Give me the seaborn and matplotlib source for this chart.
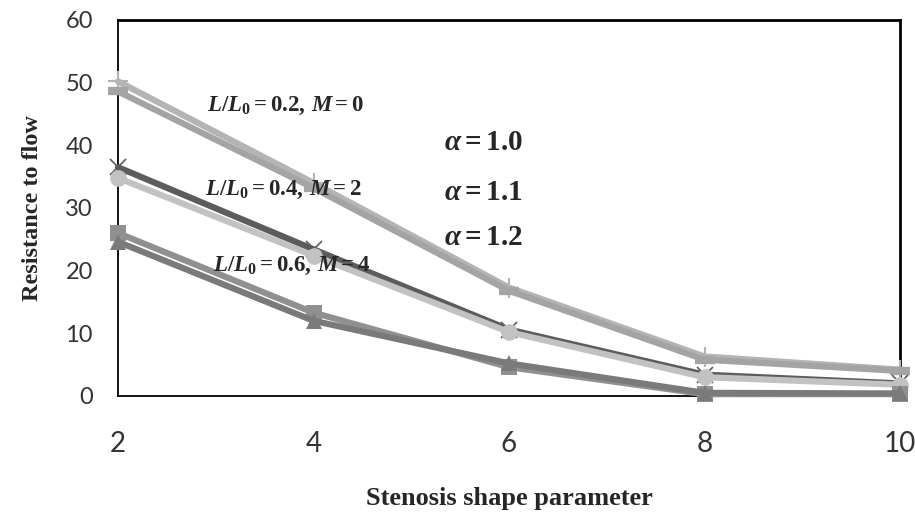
import pandas as pd
import matplotlib
matplotlib.use('Agg')
import matplotlib.pyplot as plt
import seaborn as sns

# Stenosis shape parameter (x) and resistance to flow for each curve
shape_param = [2, 4, 6, 8, 10]

r_02_a = [50.2, 34.0, 17.3, 6.3, 4.2]
r_02_b = [48.6, 33.2, 16.8, 5.8, 4.0]
r_04_a = [36.5, 23.4, 10.6, 3.4, 2.0]
r_04_b = [34.8, 22.4, 10.2, 3.0, 1.8]
r_06_a = [26.0, 13.3, 4.6, 0.3, 0.3]
r_06_b = [24.6, 12.0, 5.2, 0.5, 0.4]

series_names = ['0.2 a', '0.2 b', '0.4 a', '0.4 b', '0.6 a', '0.6 b']
series_values = [r_02_a, r_02_b, r_04_a, r_04_b, r_06_a, r_06_b]

geometry_labels = [r'$L/L_0 = 0.2,\,M = 0$',
                   r'$L/L_0 = 0.4,\,M = 2$',
                   r'$L/L_0 = 0.6,\,M = 4$']
alpha_labels = [r'$\alpha = 1.0$', r'$\alpha = 1.1$', r'$\alpha = 1.2$']

sns.set_theme(style='white')
plt.rcParams['mathtext.fontset'] = 'custom'
plt.rcParams['mathtext.rm'] = 'Liberation Serif:bold'
plt.rcParams['mathtext.it'] = 'Liberation Serif:italic:bold'
plt.rcParams['mathtext.bf'] = 'Liberation Serif:bold'

rows = []
for name, vals in zip(series_names, series_values):
    for x, y in zip(shape_param, vals):
        rows.append({'series': name, 'x': x, 'y': y})
df = pd.DataFrame(rows)

styles = {
    '0.2 a': dict(color='#b4b4b4', marker='+', ms=14, mew=1.5),
    '0.2 b': dict(color='#a4a4a4', marker='_', ms=14, mew=6),
    '0.4 a': dict(color='#5c5c5c', marker='x', ms=11, mew=1.2),
    '0.4 b': dict(color='#c2c2c2', marker='o', ms=12, mew=0),
    '0.6 a': dict(color='#909090', marker='s', ms=11, mew=0),
    '0.6 b': dict(color='#7a7a7a', marker='^', ms=11, mew=0),
}

fig = plt.figure(figsize=(9.15, 5.23), dpi=100)
ax = fig.add_axes([118 / 915, 1 - 396 / 523, (900 - 118) / 915, (396 - 20) / 523])

for name in series_names:
    st = styles[name]
    sub = df[df['series'] == name]
    sns.lineplot(data=sub, x='x', y='y', ax=ax, color=st['color'], lw=4.5,
                 marker=st['marker'], markersize=st['ms'], markeredgewidth=st['mew'],
                 markeredgecolor=st['color'], markerfacecolor=st['color'],
                 legend=False, clip_on=False, zorder=3)

ax.set_xlim(2, 10)
ax.set_ylim(0, 60)
ax.set_xticks(shape_param)
ax.set_yticks(range(0, 61, 10))
for sp in ax.spines.values():
    sp.set_visible(True)
    sp.set_color('black')
ax.spines['left'].set_linewidth(1.3)
ax.spines['bottom'].set_linewidth(1.3)
ax.spines['top'].set_linewidth(2)
ax.spines['right'].set_linewidth(2)

ax.tick_params(axis='y', length=0, pad=18, labelsize=17, labelcolor='#333333')
ax.tick_params(axis='x', length=0, pad=25, labelsize=20, labelcolor='#333333')
for lab in ax.get_yticklabels():
    lab.set_family(['Lato', 'DejaVu Sans'])
for lab in ax.get_xticklabels():
    lab.set_family(['Liberation Sans Narrow', 'Lato', 'DejaVu Sans'])

ax.set_xlabel('Stenosis shape parameter', family='Liberation Serif', weight='bold',
              fontsize=19, labelpad=22)
ax.set_ylabel('Resistance to flow', family='Liberation Serif', weight='bold',
              fontsize=17.5, labelpad=16)

for lab, (x, y) in zip(geometry_labels, [(2.91, 46.4), (2.89, 32.9), (2.97, 20.9)]):
    ax.text(x, y, lab, fontsize=16.5, va='center', ha='left', zorder=5)
for lab, y in zip(alpha_labels, [40.5, 32.5, 25.3]):
    ax.text(5.33, y, lab, fontsize=21, va='center', ha='left', zorder=5)

fig.savefig('out.png', dpi=100)
